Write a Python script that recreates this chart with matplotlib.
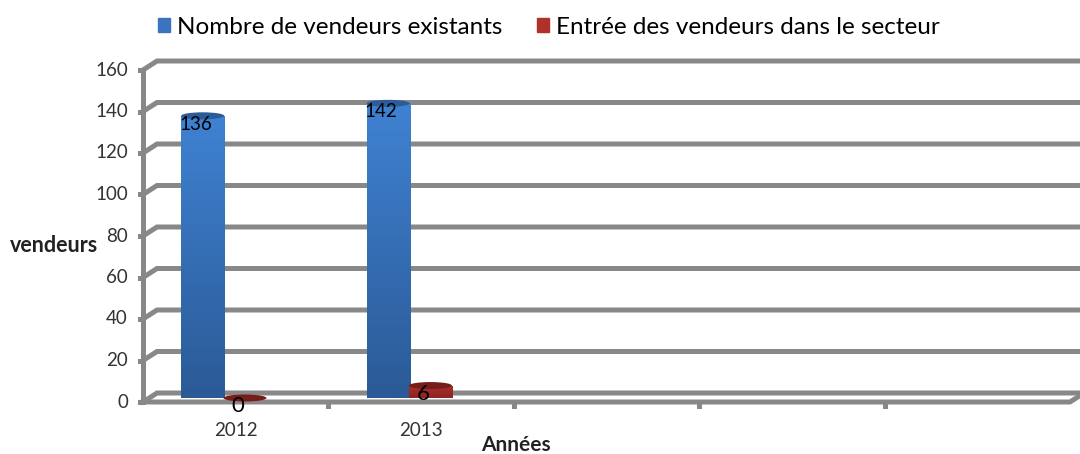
import matplotlib.pyplot as plt
import numpy as np
from matplotlib import transforms
from matplotlib.patches import Ellipse, Rectangle
from matplotlib.colors import LinearSegmentedColormap

# Data
years = ['2012', '2013', '', '', '']
existants = [136, 142]
entrees = [0, 6]
yticks = [0, 20, 40, 60, 80, 100, 120, 140, 160]
legend_labels = ['Nombre de vendeurs existants', 'Entrée des vendeurs dans le secteur']

plt.rcParams['font.family'] = ['Lato', 'DejaVu Sans']

W, H = 1080, 454
fig = plt.figure(figsize=(W / 100, H / 100), dpi=100)
# front plane of the fake 3d box, in pixels
x0p, x1p, y0p, y1p = 143, 1070, 402, 70
ax = fig.add_axes([x0p / W, (H - y0p) / H, (x1p - x0p) / W, (y0p - y1p) / H])
ax.axis('off')
xmin, xmax = -0.5, len(years) - 0.5
sx = (x1p - x0p) / (xmax - xmin)
sy = (y0p - y1p) / 160
dx, dy = 14 / sx, 9 / sy  # depth of the box in data units

grey = '#888888'
lw = 3.6
for v in yticks:
    ax.plot([xmin, xmin + dx, xmax + dx], [v, v + dy, v + dy], color=grey,
            lw=lw, clip_on=False, solid_joinstyle='miter')
    ax.plot([xmin - 3 / sx, xmin], [v, v], color=grey, lw=lw, clip_on=False)
# floor front edge and left wall edge
ax.plot([xmin, xmax, xmax + dx], [0, 0, dy], color=grey, lw=lw, clip_on=False)
ax.plot([xmin, xmin], [0, 160], color=grey, lw=lw, clip_on=False)
for b in np.arange(xmin + 1, xmax, 1.0):
    ax.plot([b, b], [0, -4 / sy], color=grey, lw=lw, clip_on=False)

# tick labels
for v in yticks:
    ax.text(xmin - 15 / sx, v, str(v), ha='right', va='center', fontsize=13.5,
            color='#333333', clip_on=False)
for i, lab in enumerate(years):
    ax.text(i, -28 / sy, lab, ha='center', va='center', fontsize=13.5,
            color='#333333', clip_on=False)

# bars (cylinders drawn at mid-depth)
bar_tr = transforms.offset_copy(ax.transData, fig=fig, x=0, y=4, units='dots')
blue_cmap = LinearSegmentedColormap.from_list('b', ['#2b5a96', '#3f82d2'])
red_cmap = LinearSegmentedColormap.from_list('r', ['#8e2421', '#a8302c'])
w = 0.232
grad = np.linspace(0, 1, 200).reshape(-1, 1)


def cylinder(xc, h, cmap, topcolor, label, fs):
    if h > 0:
        rect = Rectangle((xc - w / 2, 0), w, h, transform=bar_tr,
                         facecolor='none', edgecolor='none')
        ax.add_patch(rect)
        im = ax.imshow(grad, extent=[xc - w / 2, xc + w / 2, 0, h],
                       origin='lower', cmap=cmap, aspect='auto', zorder=2)
        im.set_transform(bar_tr)
        im.set_clip_path(rect)
    ax.add_patch(Ellipse((xc, h), w, 7 / sy, transform=bar_tr,
                         facecolor=topcolor, edgecolor='none', zorder=3))
    ax.annotate(str(label), (xc, h), xycoords=bar_tr, xytext=(-5, -6),
                textcoords='offset points', ha='center', va='center',
                fontsize=fs, color='black', zorder=4)


for i, v in enumerate(existants):
    cylinder(i - 0.178, v, blue_cmap, '#2c5c98', v, 13.5)
for i, v in enumerate(entrees):
    cylinder(i + 0.05, v, red_cmap, '#761c1a', v, 16)

ax.set_xlim(xmin, xmax)
ax.set_ylim(0, 160)

fig.text(10 / W, 1 - 246 / H, 'vendeurs', ha='left', va='center',
         fontsize=15.5, fontweight='bold', color='#222222')
fig.text(516 / W, 1 - 445 / H, 'Années', ha='center', va='center',
         fontsize=15, fontweight='bold', color='#222222')

handles = [Rectangle((0, 0), 1, 1, color='#3a74c0'),
           Rectangle((0, 0), 1, 1, color='#b0302c')]
fig.legend(handles, legend_labels, loc='center', bbox_to_anchor=(549 / W, 1 - 27 / H),
           ncol=2, frameon=False, fontsize=17.5, handlelength=0.5, handleheight=0.5,
           handletextpad=0.3, columnspacing=1.4)

fig.savefig('out.png', dpi=100)
